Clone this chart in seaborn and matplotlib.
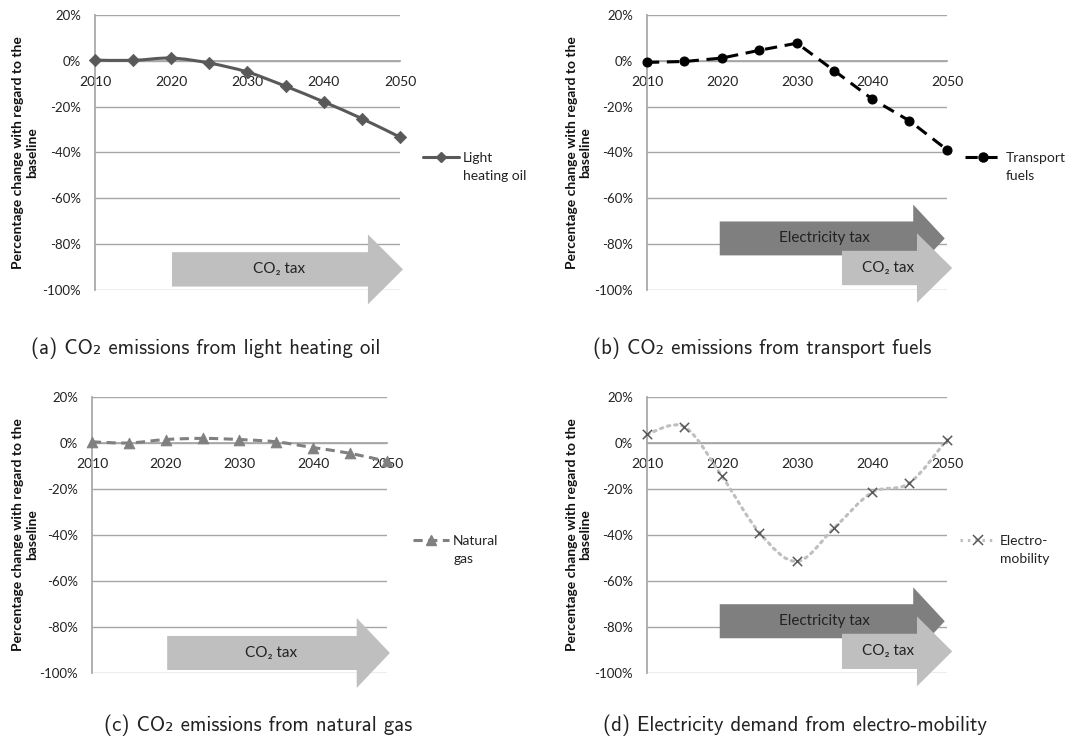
import matplotlib
matplotlib.use('Agg')
import matplotlib.pyplot as plt
import seaborn as sns
from matplotlib.path import Path
from matplotlib.patches import PathPatch, FancyArrow
from matplotlib.lines import Line2D

# values (% change vs. baseline)
years = [2010, 2015, 2020, 2025, 2030, 2035, 2040, 2045, 2050]
heating_oil = [0.3, 0.2, 1.2, -1.0, -4.9, -11.1, -17.9, -25.2, -33.3]
transport_fuels = [-0.7, -0.3, 1.2, 4.6, 7.7, -4.4, -16.6, -26.2, -38.8]
natural_gas = [0.5, 0.0, 1.5, 2.0, 1.5, 0.5, -2.0, -4.5, -8.0]
electro_mobility = [3.8, 7.0, -14.5, -39.0, -51.5, -36.8, -21.5, -17.4, 1.5]

year_ticks = [2010, 2020, 2030, 2040, 2050]
pct_ticks = [-100, -80, -60, -40, -20, 0, 20]
pct_labels = ['-100%', '-80%', '-60%', '-40%', '-20%', '0%', '20%']

captions = ['(a) CO\u2082 emissions from light heating oil',
            '(b) CO\u2082 emissions from transport fuels',
            '(c) CO\u2082 emissions from natural gas',
            '(d) Electricity demand from electro-mobility']
ylabel = 'Percentage change with regard to the\nbaseline'

sns.set_theme(style='white')
plt.rcParams['font.family'] = ['Lato', 'DejaVu Sans']

GRID = '#a6a6a6'
CO2_GREY = '#bfbfbf'
ELEC_GREY = '#7f7f7f'
TXT = '#222222'


def smooth_curve(ax, x, y, **kw):
    # excel style smoothed line: cubic bezier through the points
    n = len(x)
    verts = [(x[0], y[0])]
    codes = [Path.MOVETO]
    for i in range(n - 1):
        p0 = i - 1 if i > 0 else i
        p3 = i + 2 if i + 2 < n else i + 1
        c1 = (x[i] + (x[i + 1] - x[p0]) / 6, y[i] + (y[i + 1] - y[p0]) / 6)
        c2 = (x[i + 1] - (x[p3] - x[i]) / 6, y[i + 1] - (y[p3] - y[i]) / 6)
        verts += [c1, c2, (x[i + 1], y[i + 1])]
        codes += [Path.CURVE4] * 3
    ax.add_patch(PathPatch(Path(verts, codes), fill=False, zorder=3,
                           clip_on=False, **kw))


def style_axes(ax):
    ax.set_xlim(2010, 2050)
    ax.set_ylim(-100, 20)
    ax.set_yticks(pct_ticks)
    ax.set_yticklabels(pct_labels)
    ax.set_xticks(year_ticks)
    ax.set_xticklabels([str(y) for y in year_ticks])
    ax.yaxis.grid(True, color=GRID, lw=1)
    ax.xaxis.grid(False)
    for s in ['top', 'right']:
        ax.spines[s].set_visible(False)
    ax.spines['left'].set_color(GRID)
    ax.spines['bottom'].set_color(GRID)
    ax.spines['bottom'].set_position(('data', 0))
    ax.tick_params(axis='y', length=0, pad=10, labelsize=9.5, labelcolor=TXT)
    ax.tick_params(axis='x', length=0, pad=11, labelsize=10, labelcolor=TXT)
    ax.set_xlabel('')
    ax.set_ylabel('')
    ax.text(-0.228, 0.5, ylabel, transform=ax.transAxes, rotation=90,
            ha='center', va='center', multialignment='center',
            fontsize=10, fontweight='bold', color='#111111')


def add_arrow(ax, x0, tip, yc, width, head_w, head_len, color, label, tx):
    ax.add_patch(FancyArrow(x0, yc, tip - x0, 0, width=width, head_width=head_w,
                            head_length=head_len, length_includes_head=True,
                            color=color, lw=0, clip_on=False, zorder=2.5))
    ax.text(tx, yc, label, ha='center', va='center', fontsize=11,
            color=TXT, zorder=4, clip_on=False)


def add_legend(ax, handle, first, rest, x):
    # handle sits next to the first line, the rest wraps below it
    leg = ax.legend(handles=[handle], labels=[first], loc='center left',
                    bbox_to_anchor=(x, 0.48), frameon=False, borderaxespad=0,
                    borderpad=0, handlelength=2.6, handletextpad=0.3,
                    fontsize=10, labelcolor=TXT)
    ax.annotate(rest, xy=(0, 0), xycoords=leg.get_texts()[0],
                xytext=(0, -4.5), textcoords='offset points',
                ha='left', va='top', fontsize=10, color=TXT,
                zorder=10, annotation_clip=False)


fig = plt.figure(figsize=(10.83, 7.56), dpi=100)
ax_a = fig.add_axes([0.0877, 0.6164, 0.2816, 0.3638])
ax_b = fig.add_axes([0.5974, 0.6164, 0.2770, 0.3638])
ax_c = fig.add_axes([0.0849, 0.1098, 0.2724, 0.3651])
ax_d = fig.add_axes([0.5974, 0.1098, 0.2770, 0.3651])

# (a) light heating oil
smooth_curve(ax_a, years, heating_oil, edgecolor='#595959', lw=2.2)
sns.scatterplot(x=years, y=heating_oil, ax=ax_a, marker='D', s=40,
                color='#595959', edgecolor='#595959', zorder=4, legend=False,
                clip_on=False)
style_axes(ax_a)
add_arrow(ax_a, 2020.1, 2050.4, -91.0, 15, 30.5, 4.6, CO2_GREY, 'CO\u2082 tax', 2034.1)
add_legend(ax_a, Line2D([], [], color='#595959', lw=2.2, marker='D', ms=5),
           'Light', 'heating oil', 1.075)

# (b) transport fuels
sns.lineplot(x=years, y=transport_fuels, ax=ax_b, color='black', lw=2.2,
             linestyle=(0, (4, 2.5)), marker='o', markersize=6.5,
             markeredgecolor='black', zorder=4, clip_on=False)
style_axes(ax_b)
add_arrow(ax_b, 2019.7, 2049.7, -77.5, 14.8, 29.5, 4.2, ELEC_GREY, 'Electricity tax', 2033.6)
add_arrow(ax_b, 2036.0, 2050.7, -90.4, 15, 30.3, 4.7, CO2_GREY, 'CO\u2082 tax', 2042.1)
add_legend(ax_b, Line2D([], [], color='black', lw=2.2, ls=(0, (4, 2.5)),
                        marker='o', ms=6.5),
           'Transport', 'fuels', 1.06)

# (c) natural gas
smooth_curve(ax_c, years, natural_gas, edgecolor='#808080', lw=2.2,
             linestyle=(0, (3, 1.8)))
sns.scatterplot(x=years, y=natural_gas, ax=ax_c, marker='^', s=60,
                color='#808080', edgecolor='#808080', zorder=4, legend=False,
                clip_on=False)
style_axes(ax_c)
add_arrow(ax_c, 2020.2, 2050.4, -91.3, 14.8, 30.4, 4.5, CO2_GREY, 'CO\u2082 tax', 2034.3)
add_legend(ax_c, Line2D([], [], color='#808080', lw=2.2, ls=(0, (3, 1.8)),
                        marker='^', ms=7),
           'Natural', 'gas', 1.088)

# (d) electro-mobility
smooth_curve(ax_d, years, electro_mobility, edgecolor='#bfbfbf', lw=2.2,
             linestyle=(0, (0.8, 1.6)), capstyle='round')
sns.scatterplot(x=years, y=electro_mobility, ax=ax_d, marker='x', s=45,
                color='#595959', linewidth=1.1, zorder=4, legend=False,
                clip_on=False)
style_axes(ax_d)
add_arrow(ax_d, 2019.7, 2049.7, -77.5, 14.8, 29.5, 4.2, ELEC_GREY, 'Electricity tax', 2033.6)
add_arrow(ax_d, 2036.0, 2050.7, -90.6, 15.3, 30.4, 4.7, CO2_GREY, 'CO\u2082 tax', 2042.1)
add_legend(ax_d, Line2D([], [], color='#bfbfbf', lw=2.2, ls=(0, (0.8, 1.6)),
                        marker='x', ms=7, mec='#595959', mew=1.1),
           'Electro-', 'mobility', 1.043)

# sub captions
cap_font = ['cmss10', 'DejaVu Sans']
for (cx, cy), text in zip([(206, 348), (762, 348), (258, 725), (795, 725)], captions):
    fig.text(cx / 1083, 1 - cy / 756, text, ha='center', va='center',
             fontsize=15, family=cap_font, color=TXT)

fig.savefig('out.png', dpi=100)
